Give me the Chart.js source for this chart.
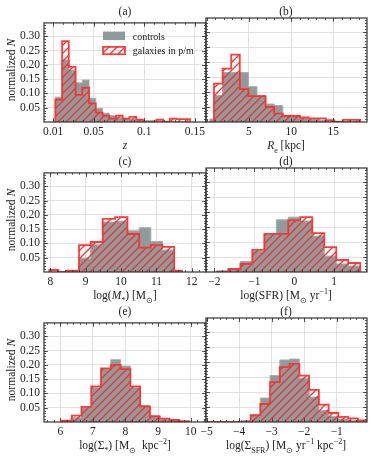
<!DOCTYPE html>
<html>
<head>
<meta charset="utf-8">
<script src="https://cdn.jsdelivr.net/npm/chart.js@4.4.1/dist/chart.umd.min.js"></script>
<style>
body{margin:0;background:#fff;width:374px;height:459px;position:relative;overflow:hidden;font-family:'Liberation Serif',serif;color:#222;}
canvas{position:absolute;}
.lbl{position:absolute;font-size:11.5px;white-space:nowrap;line-height:1;transform:translate(-50%,-50%);}
.ylbl{transform:translate(-50%,-50%) rotate(-90deg);}
sub,sup{font-size:8px;line-height:0;}
</style>
</head>
<body>
<canvas id="pa" width="210" height="130" style="left:0;top:12px"></canvas>
<canvas id="pb" width="179" height="130" style="left:194px;top:12px"></canvas>
<canvas id="pc" width="210" height="130" style="left:0;top:162px"></canvas>
<canvas id="pd" width="179" height="130" style="left:194px;top:162px"></canvas>
<canvas id="pe" width="210" height="130" style="left:0;top:312px"></canvas>
<canvas id="pf" width="179" height="130" style="left:194px;top:312px"></canvas>

<div class="lbl" style="left:125px;top:12px">(a)</div>
<div class="lbl" style="left:286px;top:12px">(b)</div>
<div class="lbl" style="left:125px;top:162px">(c)</div>
<div class="lbl" style="left:286px;top:162px">(d)</div>
<div class="lbl" style="left:125px;top:312px">(e)</div>
<div class="lbl" style="left:286px;top:312px">(f)</div>

<div class="lbl ylbl" style="left:12px;top:70px">normalized <i>N</i></div>
<div class="lbl ylbl" style="left:12px;top:220px">normalized <i>N</i></div>
<div class="lbl ylbl" style="left:12px;top:370px">normalized <i>N</i></div>

<div class="lbl" style="left:125px;top:146px"><i>z</i></div>
<div class="lbl" style="left:286px;top:146px"><i>R</i><sub>e</sub> [kpc]</div>
<div class="lbl" style="left:125px;top:296px">log(<i>M</i><sub>*</sub>) [M<sub>⊙</sub>]</div>
<div class="lbl" style="left:286px;top:296px">log(SFR) [M<sub>⊙</sub> yr<sup>−1</sup>]</div>
<div class="lbl" style="left:125px;top:446px">log(Σ<sub>*</sub>) [M<sub>⊙</sub>&nbsp; kpc<sup>−2</sup>]</div>
<div class="lbl" style="left:286px;top:446px">log(Σ<sub>SFR</sub>) [M<sub>⊙</sub> yr<sup>−1</sup> kpc<sup>−2</sup>]</div>

<script>
/* Series names */
var legendLabels = ['controls', 'galaxies in p/m'];

/* (a) redshift */
var zEdges = [0.0122, 0.0189, 0.0255, 0.0322, 0.0388, 0.0455, 0.0521, 0.0588, 0.0654, 0.0721, 0.0787,
	0.0854, 0.0920, 0.0987, 0.1053, 0.1120, 0.1186, 0.1253, 0.1319, 0.1386, 0.1452];
var zControl = [0.087, 0.217, 0.182, 0.137, 0.147, 0.083, 0.048, 0.031, 0.022, 0.017,
	0.012, 0.010, 0.008, 0.005, 0.005, 0.004, 0.003, 0.003, 0.002, 0.002];
var zPM = [0.078, 0.283, 0.193, 0.095, 0.120, 0.065, 0.033, 0.022, 0.012, 0.022,
	0.012, 0.018, 0.008, 0, 0, 0.008, 0, 0.012, 0.010, 0.010];
var zTicks = [0.01, 0.05, 0.1, 0.15];
var zTickLabels = ['0.01', '0.05', '0.1', '0.15'];

/* (b) effective radius */
var reEdges = [0.35, 0.85, 1.87, 2.89, 3.91, 4.93, 5.95, 6.97, 7.99, 9.01, 10.03,
	11.05, 12.07, 13.09, 14.11, 15.13, 16.15, 17.17, 18.19];
var reControl = [0.010, 0.089, 0.165, 0.165, 0.165, 0.118, 0.088, 0.060, 0.055, 0.022,
	0.020, 0.012, 0.010, 0.006, 0.004, 0.003, 0.002, 0.002];
var rePM = [0, 0.128, 0.178, 0.225, 0.110, 0.086, 0.086, 0.050, 0.028, 0.020,
	0.020, 0.015, 0.012, 0.012, 0.006, 0, 0.007, 0.007];
var reTicks = [5, 10, 15];
var reTickLabels = ['5', '10', '15'];

/* (c) stellar mass */
var mEdges = [7.97, 8.23, 8.46, 8.81, 9.14, 9.48, 9.83, 10.18, 10.51, 10.84, 11.17, 11.50, 11.72];
var mControl = [0, 0, 0.005, 0.048, 0.095, 0.175, 0.177, 0.144, 0.155, 0.107, 0.077, 0.005];
var mPM = [0.007, 0, 0.005, 0.094, 0.105, 0.186, 0.192, 0.133, 0.085, 0.094, 0.088, 0.005];
var mTicks = [8, 9, 10, 11, 12];
var mTickLabels = ['8', '9', '10', '11', '12'];

/* (d) star formation rate */
var sfrEdges = [-1.95, -1.65, -1.35, -1.05, -0.75, -0.45, -0.15, 0.15, 0.45, 0.75, 1.05, 1.35, 1.65];
var sfrControl = [0.004, 0.010, 0.035, 0.070, 0.125, 0.174, 0.183, 0.170, 0.120, 0.053, 0.027, 0.020];
var sfrPM = [0, 0.010, 0.027, 0.074, 0.127, 0.127, 0.172, 0.183, 0.130, 0.083, 0.040, 0.030];
var sfrTicks = [-2, -1, 0, 1];
var sfrTickLabels = ['\u22122', '\u22121', '0', '1'];

/* (e) stellar mass surface density */
var sdEdges = [6.05, 6.35, 6.65, 6.95, 7.25, 7.55, 7.85, 8.15, 8.45, 8.75, 9.05, 9.35, 9.65, 9.95];
var sdControl = [0.005, 0.015, 0.050, 0.120, 0.186, 0.218, 0.196, 0.120, 0.057, 0.022, 0.010, 0.005, 0.002];
var sdPM = [0.005, 0.022, 0.053, 0.125, 0.188, 0.200, 0.185, 0.125, 0.055, 0.020, 0.012, 0.007, 0.003];
var sdTicks = [6, 7, 8, 9, 10];
var sdTickLabels = ['6', '7', '8', '9', '10'];

/* (f) SFR surface density */
var ssEdges = [-5.0, -3.95, -3.65, -3.35, -3.05, -2.75, -2.45, -2.15, -1.85, -1.55, -1.25, -0.95, -0.65, -0.35, -0.05];
var ssControl = [0, 0.005, 0.025, 0.080, 0.155, 0.207, 0.210, 0.145, 0.083, 0.038, 0.018, 0.010, 0.005, 0.002];
var ssPM = [0, 0, 0.022, 0.060, 0.133, 0.183, 0.194, 0.155, 0.107, 0.058, 0.030, 0.017, 0.012, 0.005];
var ssTicks = [-5, -4, -3, -2, -1];
var ssTickLabels = ['\u22125', '\u22124', '\u22123', '\u22122', '\u22121'];

/* shared y axis */
var yTicks = [0.05, 0.10, 0.15, 0.20, 0.25, 0.30];
var yTickLabels = ['0.05', '0.10', '0.15', '0.20', '0.25', '0.30'];

var FONT = "'Liberation Serif', 'Times New Roman', serif",
	GRAY = 'rgb(143,154,154)', GRAY_EDGE = 'rgb(165,174,174)',
	RED = 'rgba(255,45,45,0.92)', GRID = '#dadada', AXIS = '#333';

/* Diagonal hatch used for the p/m histograms */
function hatchPattern(){
	var c = document.createElement('canvas'), s = 8, g;
	c.width = s; c.height = s;
	g = c.getContext('2d');
	g.strokeStyle = 'rgba(255,40,40,0.95)';
	g.lineWidth = 1.3;
	g.beginPath();
	g.moveTo(0, s); g.lineTo(s, 0);
	g.moveTo(-2, 2); g.lineTo(2, -2);
	g.moveTo(s - 2, s + 2); g.lineTo(s + 2, s - 2);
	g.stroke();
	return g.createPattern(c, 'repeat');
}
var HATCH = hatchPattern();

/* Step outline points from bin edges and bin values */
function stepPoints(edges, values){
	var pts = [{x: edges[0], y: 0}], i;
	for(i = 0; i < values.length; i++){
		pts.push({x: edges[i], y: values[i]});
	}
	pts.push({x: edges[edges.length - 1], y: 0});
	return pts;
}

/* Frame with inward major/minor ticks on all sides */
var framePlugin = {
	id: 'frame',
	afterDatasetsDraw: function(chart, args, o){
		var ctx = chart.ctx, a = chart.chartArea, xs = chart.scales.x, ys = chart.scales.y, v, i;
		function xMark(val, len){
			var p = Math.round(xs.getPixelForValue(val)) + 0.5;
			if(p < a.left || p > a.right) return;
			ctx.moveTo(p, a.bottom); ctx.lineTo(p, a.bottom - len);
			ctx.moveTo(p, a.top); ctx.lineTo(p, a.top + len);
		}
		function yMark(val, len){
			var p = Math.round(ys.getPixelForValue(val)) + 0.5;
			if(p < a.top || p > a.bottom) return;
			ctx.moveTo(a.left, p); ctx.lineTo(a.left + len, p);
			ctx.moveTo(a.right, p); ctx.lineTo(a.right - len, p);
		}
		ctx.save();
		ctx.strokeStyle = AXIS;
		ctx.lineWidth = 0.8;
		ctx.beginPath();
		for(v = Math.ceil(xs.min / o.xMinor - 1e-9) * o.xMinor; v <= xs.max; v += o.xMinor){ xMark(v, 2); }
		for(i = 0; i < o.xMajor.length; i++){ xMark(o.xMajor[i], 4); }
		for(v = 0.01; v <= ys.max; v += 0.01){ yMark(v, 2); }
		for(i = 0; i < yTicks.length; i++){ yMark(yTicks[i], 4); }
		ctx.stroke();
		ctx.lineWidth = 1.2;
		ctx.strokeRect(a.left, a.top, a.right - a.left, a.bottom - a.top);
		ctx.restore();
	}
};

/* Legend drawn inside panel (a) */
var legendPlugin = {
	id: 'boxLegend',
	afterDraw: function(chart){
		var ctx = chart.ctx, a = chart.chartArea, x = a.left + 59, size = 10, w;
		ctx.save();
		ctx.fillStyle = GRAY;
		ctx.fillRect(x, a.top + 8.7, 22, 8.5);
		ctx.fillStyle = HATCH;
		ctx.fillRect(x, a.top + 24, 22, 7.3);
		ctx.strokeStyle = RED;
		ctx.lineWidth = 1.8;
		ctx.strokeRect(x, a.top + 24, 22, 7.3);
		/* keep the long label inside the frame */
		ctx.font = size + 'px ' + FONT;
		w = ctx.measureText(legendLabels[1]).width;
		if(w > 63.5){ size = size * 63.5 / w; ctx.font = size.toFixed(2) + 'px ' + FONT; }
		ctx.fillStyle = '#222';
		ctx.textBaseline = 'middle';
		ctx.fillText(legendLabels[0], a.left + 88.7, a.top + 14);
		ctx.fillText(legendLabels[1], a.left + 88.7, a.top + 28.3);
		ctx.restore();
	}
};

/* Builds one histogram panel */
function buildPanel(idCanvas, edges, control, pm, xMin, xMax, xMajor, xLabels, xMinor, isLeft, withLegend){
	var padL = isLeft ? 44 : 12, padR = isLeft ? 4 : 6, padT = 6, padB = 20,
		plugins = [framePlugin];
	if(withLegend){ plugins.push(legendPlugin); }
	return new Chart(document.getElementById(idCanvas), {
		type: 'line',
		data: {
			datasets: [{
				label: legendLabels[1],
				data: stepPoints(edges, pm),
				stepped: 'before',
				borderColor: RED,
				borderWidth: 1.8,
				backgroundColor: HATCH,
				fill: 'origin',
				pointRadius: 0
			}, {
				label: legendLabels[0],
				data: stepPoints(edges, control),
				stepped: 'before',
				borderColor: GRAY_EDGE,
				borderWidth: 1,
				backgroundColor: GRAY,
				fill: 'origin',
				pointRadius: 0
			}]
		},
		options: {
			responsive: false,
			devicePixelRatio: 1,
			animation: false,
			layout: {padding: {left: 0, right: padR, top: padT, bottom: 0}},
			plugins: {
				legend: {display: false},
				tooltip: {enabled: false},
				frame: {xMajor: xMajor, xMinor: xMinor}
			},
			scales: {
				x: {
					type: 'linear',
					min: xMin,
					max: xMax,
					border: {display: false},
					grid: {color: GRID, lineWidth: 0.8, drawTicks: false},
					afterBuildTicks: function(scale){
						scale.ticks = xMajor.map(function(v){ return {value: v}; });
					},
					afterFit: function(scale){
						scale.height = padB;
						scale.paddingLeft = 0;
						scale.paddingRight = 0;
					},
					ticks: {
						padding: 3,
						maxRotation: 0,
						autoSkip: false,
						color: '#222',
						font: {family: FONT, size: 11.5},
						callback: function(v){
							var i = xMajor.indexOf(v);
							return i < 0 ? '' : xLabels[i];
						}
					}
				},
				y: {
					type: 'linear',
					min: 0,
					max: 0.347,
					border: {display: false},
					grid: {color: GRID, lineWidth: 0.8, drawTicks: false},
					afterBuildTicks: function(scale){
						scale.ticks = yTicks.map(function(v){ return {value: v}; });
					},
					afterFit: function(scale){
						scale.width = padL;
					},
					ticks: {
						display: isLeft,
						padding: 4,
						autoSkip: false,
						color: '#222',
						font: {family: FONT, size: 11.5},
						callback: function(v){
							var i = yTicks.indexOf(v);
							return i < 0 ? '' : yTickLabels[i];
						}
					}
				}
			}
		},
		plugins: plugins
	});
}

buildPanel('pa', zEdges, zControl, zPM, 0.001, 0.161, zTicks, zTickLabels, 0.01, true, true);
buildPanel('pb', reEdges, reControl, rePM, -0.1, 19, reTicks, reTickLabels, 1, false, false);
buildPanel('pc', mEdges, mControl, mPM, 7.82, 12.4, mTicks, mTickLabels, 0.2, true, false);
buildPanel('pd', sfrEdges, sfrControl, sfrPM, -2.21, 1.82, sfrTicks, sfrTickLabels, 0.2, false, false);
buildPanel('pe', sdEdges, sdControl, sdPM, 5.5, 10.47, sdTicks, sdTickLabels, 0.2, true, false);
buildPanel('pf', ssEdges, ssControl, ssPM, -5.02, -0.07, ssTicks, ssTickLabels, 0.2, false, false);
</script>
</body>
</html>
